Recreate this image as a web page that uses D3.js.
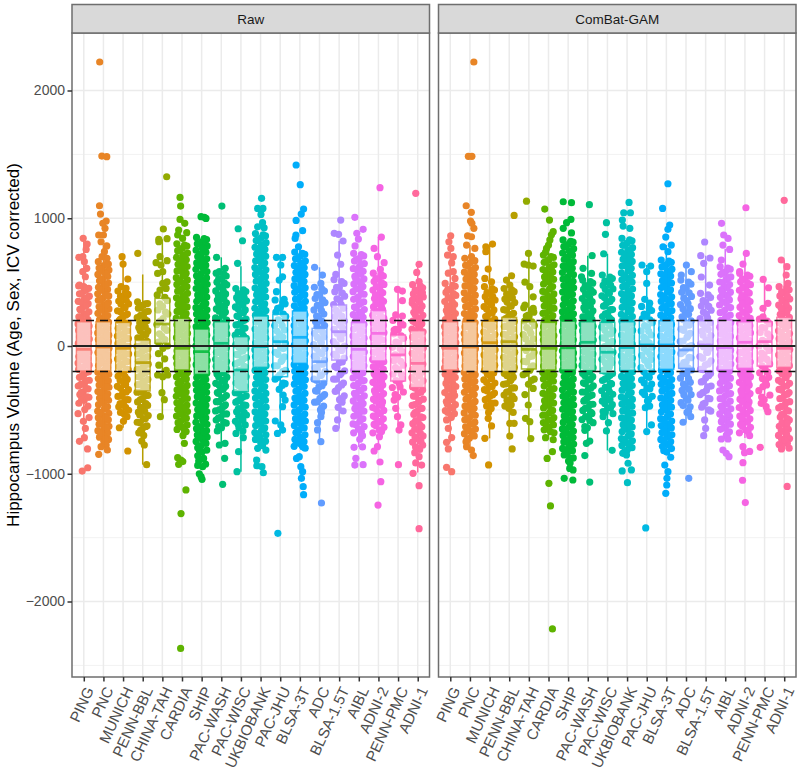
<!DOCTYPE html>
<html><head><meta charset="utf-8">
<script src="https://cdnjs.cloudflare.com/ajax/libs/d3/7.8.5/d3.min.js"></script>
<style>html,body{margin:0;padding:0;background:#fff}svg{display:block}text{font-family:"Liberation Sans",Arial,sans-serif}</style>
</head><body><svg id="c" width="800" height="773"></svg>
<script>
const studies=["PING","PNC","MUNICH","PENN-BBL","CHINA-TAH","CARDIA","SHIP","PAC-WASH","PAC-WISC","UKBIOBANK","PAC-JHU","BLSA-3T","ADC","BLSA-1.5T","AIBL","ADNI-2","PENN-PMC","ADNI-1"];
const studyColors=["#F8766D","#E88526","#D39200","#B79F00","#93AA00","#5EB300","#00BA38","#00BF74","#00C19F","#00BFC4","#00B9E3","#00ADFA","#619CFF","#AE87FF","#DB72FB","#F564E3","#FF61C3","#FF699C"];
const yTicks=[-2000,-1000,0,1000,2000];
const yMinorTicks=[-2500,-1500,-500,500,1500];
const refLines=[-200,200];

const rawQ3=[190,190,185,47,373,217,133,190,73,235,248,274,138,321,183,277,86,120];
const rawMedian=[-26,-8,-18,-130,172,-18,-44,21,-188,-5,34,68,-123,112,-26,99,-70,-136];
const rawQ1=[-196,-196,-201,-352,21,-188,-222,-209,-357,-167,-240,-136,-274,-110,-193,-117,-274,-326];
const rawWhiskerHigh=[843,790,699,560,835,790,810,694,624,800,694,770,616,822,720,853,444,639];
const rawWhiskerLow=[-746,-790,-640,-929,-553,-730,-830,-775,-984,-760,-684,-800,-749,-645,-790,-790,-658,-990];

const combatQ3=[190,190,195,224,190,185,195,190,185,190,209,198,198,198,203,190,190,224];
const combatMedian=[-18,-8,26,34,-26,-18,-14,29,-49,-12,8,8,-31,8,-13,29,34,-18];
const combatQ1=[-188,-201,-201,-201,-180,-188,-188,-193,-214,-192,-193,-183,-175,-193,-188,-175,-157,-167];
const combatWhiskerHigh=[863,790,798,550,725,790,830,707,722,800,634,790,634,707,760,725,521,673];
const combatWhiskerLow=[-754,-800,-723,-705,-725,-730,-830,-775,-817,-800,-670,-830,-597,-702,-728,-720,-514,-736];

// Isolated points read one by one: [value, jitter in category widths]
const rawSparse=[
[[843,-.03],[798,.17],[756,.12],[699,-.05],[694,-.25],[660,.03],[608,.15],[582,-.05],[542,.08],[477,-.22],[464,0],[451,.12],[-645,.08],[-718,.03],[-746,-.22],[-806,.19],[-953,.2],[-979,-.08]],
[[2223,-.19],[1487,-.08],[1482,.17],[1098,-.2],[1033,-.15],[978,.14],[960,-.03],[921,.08],[869,-.24],[869,0],[816,-.12],[783,.17],[738,.05],[699,-.07],[686,.18],[-775,.14],[-788,-.12],[-814,.2],[-848,-.24]],
[[699,-.05],[641,0],[524,.24],[464,-.1],[451,.15],[-553,.2],[-590,.02],[-640,-.19],[-822,.24]],
[[725,-.25],[-700,.05],[-744,-.05],[-775,.08],[-929,.2]],
[[1325,.22],[916,.05],[840,.24],[835,-.18],[816,-.18],[699,-.12],[668,.24],[652,-.32],[634,-.07],[582,.02],[568,-.24],[503,.24],[490,.02],[451,.19],[438,-.12],[-18,.03],[-60,-.2],[-100,.12],[-150,-.18],[-190,.2],[-227,-.24],[-227,.27],[-240,.02],[-365,-.02],[-420,.1],[-553,-.1]],
[[1163,-.1],[1095,-.07],[991,-.1],[960,.14],[908,-.17],[887,.24],[869,-.22],[842,.03],[-700,.05],[-762,.12],[-874,-.22],[-893,-.05],[-926,-.17],[-905,.04],[-1127,.2],[-1312,-.05],[-2367,-.07]],
[[1012,-.03],[1007,.14],[999,.22],[-860,-.2],[-880,.1],[-900,-.15],[-925,.2],[-945,.05],[-935,-.2],[-1000,-.12],[-1023,-.03],[-1044,.02]],
[[1095,.03],[694,-.24],[608,.2],[582,-.1],[-665,-.2],[-775,-.1],[-762,.19],[-879,.17],[-1083,.07]],
[[918,-.14],[824,.08],[647,-.17],[-640,-.1],[-665,.1],[-684,-.25],[-718,.12],[-827,-.12],[-984,-.2]],
[[1156,.05],[1077,-.15],[1077,.12],[1030,.02],[965,.1],[933,-.15],[925,.18],[-780,.1],[-801,-.15],[-815,.27],[-893,-.2],[-937,-.19],[-945,.07],[-992,.14]],
[[694,-.19],[694,.12],[634,.03],[542,.12],[516,-.05],[425,-.19],[365,.2],[-310,.1],[-340,-.05],[-384,.15],[-423,.25],[-475,.12],[-587,-.25],[-618,.03],[-658,.12],[-684,-.14],[-1466,-.12]],
[[1417,-.19],[1263,.02],[1072,.19],[1033,.07],[983,-.19],[903,.14],[869,-.2],[842,-.24],[777,-.07],[-866,-.03],[-880,-.17],[-945,.05],[-984,.14],[-1036,.08],[-1101,.17],[-1164,.19]],
[[616,-.25],[555,.15],[490,.07],[-520,.1],[-553,.07],[-600,-.1],[-657,-.1],[-749,.07],[-1229,.1]],
[[986,.08],[882,-.25],[874,-.03],[822,.2],[712,-.08],[640,.08],[560,-.17],[-440,.15],[-480,-.05],[-509,.2],[-579,-.08],[-645,-.17]],
[[1007,-.2],[913,.22],[882,-.1],[837,-.02],[783,-.19],[-702,.19],[-730,.05],[-793,-.24],[-790,.19],[-879,-.15],[-932,-.2],[-929,.22]],
[[1239,.08],[853,.15],[764,-.22],[699,-.05],[652,.29],[600,.1],[-710,.05],[-788,-.05],[-822,-.22],[-908,.08],[-1062,.12],[-1245,-.02]],
[[444,-.03],[430,.22],[355,.22],[243,-.12],[234,.22],[125,-.2],[-423,-.2],[-488,-.12],[-553,-.03],[-618,.14],[-658,.05],[-929,.02]],
[[1195,-.1],[639,.07],[576,-.05],[504,.07],[417,.24],[360,-.27],[-810,.1],[-835,-.15],[-866,.07],[-932,.2],[-915,-.1],[-997,-.24],[-1093,.07],[-1430,.07]]
];
const rawDense=[
[470,452,431,409,390,372,350,331,309,287,268,251,228,207,190,173,156,139,122,105,88,71,54,37,20,3,-14,-31,-48,-65,-82,-99,-116,-133,-150,-167,-184,-201,-222,-245,-268,-290,-313,-335,-358,-380,-402,-425,-448,-470,-498,-530,-560,-590],
[660,642,628,610,594,577,560,544,526,510,493,476,460,443,425,409,392,375,358,340,324,307,290,273,256,238,222,204,187,170,153,136,119,102,85,68,51,34,17,0,-17,-34,-51,-68,-85,-102,-119,-136,-153,-170,-187,-204,-221,-238,-255,-272,-289,-306,-323,-340,-357,-374,-391,-408,-425,-442,-459,-476,-493,-510,-527,-544,-561,-578,-595,-612,-629,-646,-663,-680,-697,-714,-731,-745],
[430,404,381,352,329,301,276,250,222,198,178,158,138,118,98,78,58,38,18,-2,-22,-42,-62,-82,-102,-122,-142,-162,-185,-210,-236,-262,-288,-316,-342,-369,-395,-420,-448,-476,-503,-530],
[345,332,318,296,272,248,222,197,170,144,118,90,64,38,18,-2,-22,-42,-62,-82,-102,-122,-142,-162,-182,-202,-222,-242,-262,-282,-302,-322,-342,-362,-386,-412,-438,-465,-490,-518,-545,-570,-597,-625,-652,-680],
[400,355,310,282,250,215,168,122,75,30,0],
[800,782,765,746,728,711,693,675,658,640,622,605,588,570,552,535,517,499,482,464,447,429,412,394,377,359,341,324,306,289,271,254,236,218,201,184,167,150,133,116,99,82,65,48,31,14,-3,-20,-37,-54,-71,-88,-105,-122,-139,-156,-173,-190,-207,-224,-241,-258,-275,-292,-309,-326,-343,-360,-377,-394,-411,-428,-445,-462,-479,-496,-513,-530,-548,-565,-583,-600,-618,-635,-653,-670],
[850,833,816,800,783,766,750,733,716,700,683,666,650,633,616,600,583,566,550,533,516,500,483,466,450,433,416,400,383,366,350,333,316,300,283,266,250,233,216,200,184,167,151,134,118,101,85,68,52,35,19,2,-14,-31,-47,-64,-80,-97,-113,-130,-146,-163,-179,-196,-213,-230,-247,-263,-280,-297,-313,-330,-347,-363,-380,-397,-413,-430,-447,-463,-480,-497,-513,-530,-547,-563,-580,-597,-613,-630,-647,-663,-680,-697,-713,-730,-747,-763,-780,-797,-815,-830],
[570,548,525,500,479,455,431,408,384,360,337,314,290,266,243,220,202,184,166,148,130,112,94,76,58,40,22,4,-14,-32,-50,-68,-86,-104,-122,-140,-158,-176,-196,-220,-244,-268,-292,-316,-340,-364,-388,-412,-436,-460,-484,-508,-532,-556,-580,-604,-640],
[450,426,402,378,354,330,306,282,258,234,210,190,165,140,110,85,60,35,10,-15,-40,-65,-90,-115,-140,-165,-190,-215,-240,-265,-290,-315,-340,-365,-390,-415,-440,-465,-490,-515,-540,-565,-590,-618],
[880,862,844,826,809,791,773,756,738,720,702,685,667,649,631,614,596,578,560,543,525,507,490,472,454,436,419,401,383,366,348,330,312,295,277,259,241,223,205,187,169,151,133,115,97,79,61,43,25,7,-11,-29,-47,-65,-83,-101,-119,-137,-155,-173,-191,-209,-227,-245,-263,-281,-299,-317,-335,-353,-371,-389,-407,-425,-443,-461,-479,-497,-515,-533,-551,-569,-587,-605,-623,-641,-659,-677,-695,-713,-731,-745,-760],
[360,330,300,265,230,195,160,125,90,55,20,-15,-50,-85,-120,-155,-190,-225,-260,-295],
[735,717,700,682,665,647,630,612,595,577,560,542,525,507,490,472,455,437,420,402,385,367,350,332,315,297,280,262,245,228,211,194,177,160,143,126,109,92,75,58,41,24,7,-10,-27,-44,-61,-78,-95,-112,-129,-146,-163,-180,-197,-214,-231,-248,-265,-282,-299,-317,-335,-353,-371,-389,-407,-425,-443,-461,-479,-497,-515,-533,-551,-569,-587,-605,-623,-641,-659,-677,-695,-713,-731,-749,-767,-785,-800],
[460,430,400,372,340,310,282,250,222,190,160,130,100,70,40,10,-20,-50,-80,-110,-140,-170,-200,-230,-260,-290,-320,-350,-380,-410,-440,-470,-500],
[520,490,455,425,390,360,325,295,260,230,195,165,130,100,65,35,0,-30,-65,-95,-130,-160,-195,-225,-260,-290,-325,-355,-390,-420],
[725,705,685,665,645,625,605,585,565,545,525,505,485,465,445,425,405,385,365,345,325,305,285,265,245,225,205,187,169,151,133,115,97,79,61,43,25,7,-11,-29,-47,-65,-83,-101,-119,-137,-155,-173,-191,-210,-230,-250,-270,-290,-310,-330,-350,-370,-390,-410,-430,-450,-470,-490,-510,-530,-550,-570,-590,-610,-630,-650,-680],
[570,548,526,504,482,460,438,416,394,372,350,328,306,284,262,240,218,199,180,161,142,123,104,85,66,47,28,9,-10,-29,-48,-67,-86,-105,-124,-143,-162,-181,-200,-218,-240,-262,-284,-306,-328,-350,-372,-394,-416,-438,-460,-482,-504,-526,-548,-570,-592,-614,-636,-658,-680],
[200,165,130,95,60,25,-10,-45,-80,-115,-150,-185,-220,-255,-290,-325,-360,-400],
[480,456,432,408,384,360,336,312,288,264,240,216,195,174,153,132,111,90,69,48,27,6,-15,-36,-57,-78,-99,-120,-141,-162,-183,-204,-224,-248,-272,-296,-320,-344,-368,-392,-416,-440,-464,-488,-512,-536,-560,-584,-608,-632,-656,-680,-704,-728,-752,-776,-800]
];
const rawFill=[
[440,408,377,344,311,280,247,214,182,150,118,85,52,20,-12,-44,-77,-108,-140,-172,-205,-237,-270,-301,-333,-365,-398,-420],
[640,600,562,521,480,441,400,361,322,282,240,201,160,120,81,40,0,-41,-80,-122,-161,-200,-241,-282,-320,-361,-402,-441,-480,-522,-561,-600,-641,-680,-730],
[420,390,358,328,300,270,241,210,180,150,121,90,60,30,0,-31,-60,-90,-121,-150,-180,-211,-240,-270,-301,-330,-360,-392,-420,-451,-480,-520],
[330,300,268,240,210,181,150,120,90,61,30,0,-30,-61,-90,-120,-151,-180,-210,-241,-270,-300,-331,-360,-390,-421,-450,-480,-511,-540,-570,-600,-630,-660],
[380,330,265,195,140,95,50],
[790,750,712,670,631,590,551,512,470,431,390,352,311,270,232,191,150,110,71,30,-10,-51,-90,-130,-171,-210,-250,-291,-330,-370,-411,-450,-490,-531,-570,-610,-660],
[840,798,756,715,672,630,588,546,505,462,420,378,337,295,252,210,168,127,85,42,0,-42,-84,-126,-169,-210,-252,-295,-336,-378,-421,-462,-504,-547,-588,-630,-672,-715,-756,-820],
[560,528,495,464,431,400,368,335,303,272,240,207,175,143,111,80,47,15,-18,-50,-82,-114,-147,-178,-210,-242,-275,-307,-339,-371,-404,-436,-468,-500,-533,-565,-597,-630],
[440,410,380,350,320,291,260,230,200,170,140,110,80,50,20,-10,-40,-70,-100,-130,-160,-190,-220,-250,-280,-310,-340,-370,-400,-430,-460,-490,-520,-550,-580,-610],
[870,830,791,750,711,670,630,590,551,510,470,430,390,351,310,270,230,190,151,110,70,30,-10,-50,-90,-131,-170,-210,-250,-290,-331,-370,-410,-450,-490,-530,-570,-611,-650,-690,-750],
[340,295,250,205,160,115,70,25,-20,-65,-110,-155,-200,-245,-290],
[725,685,645,605,565,525,484,445,404,365,325,285,245,205,165,125,85,45,5,-35,-75,-115,-155,-195,-235,-275,-315,-355,-395,-435,-475,-515,-555,-595,-635,-675,-715,-755,-790],
[445,403,361,319,277,235,193,151,109,67,25,-17,-59,-101,-143,-185,-227,-269,-311,-353,-395,-437,-490],
[505,460,415,370,325,280,235,190,145,100,55,10,-35,-80,-125,-170,-215,-260,-305,-350,-410],
[715,677,639,601,563,525,487,449,411,373,335,297,259,221,183,145,107,69,31,-7,-45,-83,-121,-159,-197,-235,-273,-311,-349,-387,-425,-463,-501,-539,-577,-615,-670],
[560,528,496,464,432,400,368,336,304,272,240,208,176,144,112,80,48,16,-16,-48,-80,-112,-144,-176,-208,-240,-272,-304,-336,-368,-400,-432,-464,-496,-528,-560,-592,-624,-670],
[180,130,80,30,-20,-70,-120,-170,-220,-270,-320,-380],
[470,438,406,374,342,310,278,246,214,182,150,118,86,54,22,-10,-42,-74,-106,-138,-170,-202,-234,-266,-298,-330,-362,-394,-426,-458,-490,-522,-554,-586,-618,-650,-682,-714,-746,-790]
];

const combatSparse=[
[[863,.02],[816,-.07],[764,.03],[712,-.14],[699,.15],[650,.07],[582,.15],[570,-.1],[529,.24],[-579,-.19],[-645,-.1],[-717,.07],[-754,-.19],[-806,-.1],[-950,-.19],[-984,.07]],
[[2223,.2],[1485,-.08],[1485,.1],[1098,-.19],[1046,.07],[978,.03],[960,.1],[921,.2],[863,-.12],[855,.08],[790,-.17],[764,.25],[699,.08],[-788,-.17],[-814,.08],[-858,.17]],
[[798,.15],[777,-.19],[738,-.19],[602,-.07],[529,-.24],[503,.1],[-490,.08],[-520,-.05],[-566,-.07],[-626,.1],[-723,-.24],[-931,-.05]],
[[1022,.25],[550,.12],[516,-.14],[477,.03],[-488,-.02],[-520,.2],[-605,.03],[-605,.25],[-705,.03],[-806,.15]],
[[1134,-.12],[725,-.02],[641,-.24],[634,-.03],[626,.22],[500,-.2],[464,.05],[385,.22],[295,.22],[320,-.2],[242,-.03],[-332,.22],[-380,-.2],[-462,-.03],[-566,-.17],[-592,.05],[-725,.1]],
[[1072,-.19],[986,.05],[895,.24],[870,.15],[830,.07],[790,0],[764,-.1],[735,-.15],[-718,-.15],[-733,.24],[-827,.2],[-880,-.07],[-1075,.02],[-1252,.1],[-2215,.2]],
[[1129,-.25],[1122,.17],[991,.14],[965,-.08],[921,-.25],[885,.17],[-915,.1],[-958,.08],[-970,.25],[-1036,-.2],[-1049,.24]],
[[1106,.08],[707,.22],[608,-.24],[568,.19],[542,-.32],[-660,-.15],[-744,.1],[-762,-.07],[-858,-.15],[-1065,.1]],
[[965,-.05],[874,-.1],[722,-.19],[-553,-.22],[-665,-.05],[-817,.24],[-600,.05]],
[[1124,.1],[1043,-.17],[1043,.17],[986,-.24],[939,-.2],[921,.14],[-853,-.03],[-918,.05],[-978,-.25],[-970,.22],[-1070,.02]],
[[634,-.24],[626,.2],[582,0],[490,0],[365,-.1],[335,.15],[-470,.15],[-483,-.07],[-618,.24],[-670,0],[-1424,-.05]],
[[1270,.08],[1077,-.19],[947,.17],[913,.08],[853,-.03],[790,.25],[777,-.17],[738,.08],[-871,.22],[-932,-.08],[-984,.08],[-1036,.03],[-1088,.02],[-1153,-.03]],
[[634,.02],[582,.27],[555,-.24],[-553,.24],[-597,-.15],[-1036,.14]],
[[814,-.05],[707,-.25],[689,.22],[647,-.1],[540,-.22],[477,.2],[-579,-.05],[-645,0],[-702,-.1]],
[[960,-.19],[869,-.08],[842,.14],[790,-.12],[756,.22],[673,-.2],[-728,-.2],[-728,.14],[-814,-.12],[-840,.05],[-866,.19]],
[[1082,.05],[725,.07],[641,-.1],[582,-.27],[-620,-.15],[-702,.24],[-788,-.1],[-835,-.02],[-825,.24],[-913,-.1],[-1051,-.12],[-1226,.02]],
[[521,-.07],[456,.2],[334,.17],[295,-.08],[229,-.08],[-318,-.08],[-449,-.17],[-475,.08],[-514,.17],[-793,-.22]],
[[1140,0],[673,-.15],[621,.14],[555,.1],[490,.19],[-605,.15],[-684,.1],[-736,.02],[-806,-.14],[-1099,.15]]
];
const combatDense=[
[490,467,443,419,396,372,348,325,301,277,254,230,206,188,170,152,134,116,98,80,62,44,26,8,-10,-28,-46,-64,-82,-100,-118,-136,-154,-172,-190,-208,-222,-246,-269,-293,-317,-340,-364,-388,-411,-435,-459,-482,-506,-530,-560],
[686,668,650,632,614,596,578,560,542,524,506,488,470,452,434,416,398,380,362,344,326,308,290,272,254,236,218,200,183,166,149,132,115,98,81,64,47,30,13,-4,-21,-38,-55,-72,-89,-106,-123,-140,-157,-174,-191,-208,-225,-242,-259,-276,-293,-310,-327,-344,-362,-380,-398,-416,-434,-452,-470,-488,-506,-524,-542,-560,-578,-596,-614,-632,-650,-668,-686,-704,-722,-750],
[464,438,412,386,360,334,308,282,256,230,210,190,170,150,130,110,90,70,50,30,10,-10,-30,-50,-70,-90,-110,-130,-150,-170,-190,-212,-238,-264,-290,-316,-342,-368,-394,-420,-446,-472],
[450,425,395,368,340,312,284,256,232,212,192,172,152,132,112,92,72,52,32,12,-8,-28,-48,-68,-88,-108,-128,-148,-168,-190,-216,-244,-272,-300,-328,-356,-384,-412,-440,-470],
[300,265,230,195,160,125,90,55,20,-15,-50,-85,-120,-155,-190,-225,-260,-300],
[712,693,674,655,636,617,598,579,560,541,522,503,484,465,446,427,408,389,370,351,332,313,294,275,256,237,218,200,183,166,149,132,115,98,81,64,47,30,13,-4,-21,-38,-55,-72,-89,-106,-123,-140,-157,-174,-191,-208,-225,-242,-259,-276,-295,-314,-333,-352,-371,-390,-409,-428,-447,-466,-485,-504,-523,-542,-561,-580,-599,-618,-637,-656,-680],
[830,813,796,779,762,745,728,711,694,677,660,643,626,609,592,575,558,541,524,507,490,473,456,439,422,405,388,371,354,337,320,303,286,269,252,235,218,201,184,167,150,133,116,99,82,65,48,31,14,-3,-20,-37,-54,-71,-88,-105,-122,-139,-156,-173,-190,-207,-224,-241,-258,-275,-292,-309,-326,-343,-360,-377,-394,-411,-428,-445,-462,-479,-496,-513,-530,-547,-564,-581,-598,-615,-632,-649,-666,-683,-700,-717,-734,-751,-768,-785,-802,-819,-836,-853,-876,-900],
[516,492,468,444,420,396,372,348,324,300,276,252,228,208,190,172,154,136,118,100,82,64,46,28,10,-8,-26,-44,-62,-80,-98,-116,-134,-152,-170,-192,-216,-240,-264,-288,-312,-336,-360,-384,-408,-432,-456,-480,-504,-528,-552,-576,-600,-640],
[555,528,501,474,447,420,393,366,339,312,285,258,231,204,176,148,120,92,64,36,8,-20,-48,-76,-104,-132,-160,-188,-216,-243,-270,-297,-324,-351,-378,-405,-432,-459,-486,-513,-530],
[842,824,806,788,770,752,734,716,698,680,662,644,626,608,590,572,554,536,518,500,482,464,446,428,410,392,374,356,338,320,302,284,266,248,230,212,194,176,158,140,122,104,86,68,50,32,14,-4,-22,-40,-58,-76,-94,-112,-130,-148,-166,-184,-202,-220,-238,-256,-274,-292,-310,-328,-346,-364,-382,-400,-418,-436,-454,-472,-490,-508,-526,-544,-562,-580,-598,-616,-634,-652,-670,-688,-706,-724,-742,-760,-778,-796,-814,-840],
[310,278,246,214,182,150,118,86,54,22,-10,-42,-74,-106,-138,-170,-202,-234,-266,-298,-330,-362,-394,-430],
[673,655,637,619,601,583,565,547,529,511,493,475,457,439,421,403,385,367,349,331,313,295,277,259,241,223,205,187,169,151,133,115,97,79,61,43,25,7,-11,-29,-47,-65,-83,-101,-119,-137,-155,-173,-191,-209,-227,-245,-263,-281,-299,-317,-335,-353,-371,-389,-407,-425,-443,-461,-479,-497,-515,-533,-551,-569,-587,-605,-623,-641,-659,-677,-695,-713,-731,-749,-767,-785,-803,-830],
[516,484,452,420,388,356,324,292,260,228,196,164,132,100,68,36,4,-28,-60,-92,-124,-156,-188,-220,-252,-284,-316,-348,-380,-412,-444,-476,-520],
[412,379,346,313,280,247,214,181,148,115,82,49,16,-17,-50,-83,-116,-149,-182,-215,-248,-281,-314,-347,-380,-413,-446,-479,-510],
[621,601,581,561,541,521,501,481,461,441,421,401,381,361,341,321,301,281,261,241,221,201,183,165,147,129,111,93,75,57,39,21,3,-15,-33,-51,-69,-87,-105,-123,-141,-159,-177,-195,-212,-232,-252,-272,-292,-312,-332,-352,-372,-392,-412,-432,-452,-472,-492,-512,-532,-552,-572,-592,-612,-632,-652,-672,-700],
[568,546,524,502,480,458,436,414,392,370,348,326,304,282,260,238,216,197,178,159,140,121,102,83,64,45,26,7,-12,-31,-50,-69,-88,-107,-126,-145,-164,-183,-202,-218,-240,-262,-284,-306,-328,-350,-372,-394,-416,-438,-460,-482,-504,-526,-548,-570,-592,-614,-636,-658,-680],
[210,175,140,105,70,35,0,-35,-70,-105,-140,-175,-210,-245,-280,-350,-385,-420],
[464,440,416,392,368,344,320,296,272,248,224,203,182,161,140,119,98,77,56,35,14,-7,-28,-49,-70,-91,-112,-133,-154,-175,-195,-220,-244,-268,-292,-316,-340,-364,-388,-412,-436,-460,-484,-508,-532,-556,-580,-604,-628,-652,-676,-700,-724,-748,-772,-800]
];
const combatFill=[
[475,442,410,378,346,314,282,250,218,186,154,122,90,58,26,-6,-38,-70,-102,-134,-166,-198,-230,-262,-294,-326,-358,-390,-422,-454,-486,-520],
[670,630,591,551,511,471,431,392,352,312,272,232,193,153,113,73,33,-7,-47,-87,-127,-167,-207,-247,-287,-327,-367,-407,-447,-487,-527,-567,-607,-647,-687,-735],
[450,418,386,354,322,290,258,226,194,162,130,98,66,34,2,-30,-62,-94,-126,-158,-190,-222,-254,-286,-318,-350,-382,-414,-446,-470],
[440,408,376,344,312,280,248,216,184,152,120,88,56,24,-8,-40,-72,-104,-136,-168,-200,-232,-264,-296,-328,-360,-392,-424,-460],
[280,235,190,145,100,55,10,-35,-80,-125,-170,-215,-270],
[700,660,621,580,540,501,460,421,380,341,300,260,221,180,141,100,61,20,-20,-60,-101,-140,-181,-220,-261,-300,-341,-380,-421,-460,-501,-540,-581,-620,-670],
[820,778,736,694,652,610,568,526,484,442,400,358,316,274,232,190,148,106,64,22,-20,-62,-104,-146,-188,-230,-272,-314,-356,-398,-440,-482,-524,-566,-608,-650,-692,-734,-776,-818,-880],
[505,472,440,408,376,344,312,280,248,216,184,152,120,88,56,24,-8,-40,-72,-104,-136,-168,-200,-232,-264,-296,-328,-360,-392,-424,-456,-488,-520,-552,-584,-630],
[540,508,476,444,412,380,348,316,284,252,220,188,156,124,92,60,28,-4,-36,-68,-100,-132,-164,-196,-228,-260,-292,-324,-356,-388,-420,-452,-484,-520],
[830,790,750,710,670,630,590,550,510,470,430,390,350,310,270,230,190,150,110,70,30,-10,-50,-90,-130,-170,-210,-250,-290,-330,-370,-410,-450,-490,-530,-570,-610,-650,-690,-730,-770,-830],
[295,250,205,160,115,70,25,-20,-65,-110,-155,-200,-245,-290,-335,-380,-420],
[665,625,585,545,505,465,425,385,345,305,265,225,185,145,105,65,25,-15,-55,-95,-135,-175,-215,-255,-295,-335,-375,-415,-455,-495,-535,-575,-615,-655,-695,-735,-775,-820],
[500,458,416,374,332,290,248,206,164,122,80,38,-4,-46,-88,-130,-172,-214,-256,-298,-340,-382,-424,-466,-510],
[400,355,310,265,220,175,130,85,40,-5,-50,-95,-140,-185,-230,-275,-320,-365,-410,-455,-500],
[610,572,534,496,458,420,382,344,306,268,230,192,154,116,78,40,2,-36,-74,-112,-150,-188,-226,-264,-302,-340,-378,-416,-454,-492,-530,-568,-606,-644,-690],
[555,523,491,459,427,395,363,331,299,267,235,203,171,139,107,75,43,11,-21,-53,-85,-117,-149,-181,-213,-245,-277,-309,-341,-373,-405,-437,-469,-501,-533,-565,-597,-629,-670],
[195,145,95,45,-5,-55,-105,-155,-205,-255,-305,-400],
[455,423,391,359,327,295,263,231,199,167,135,103,71,39,7,-25,-57,-89,-121,-153,-185,-217,-249,-281,-313,-345,-377,-409,-441,-473,-505,-537,-569,-601,-633,-665,-697,-729,-761,-795]
];
// Repeating lateral patterns for the solid parts of each column, in category widths
const laneOffsets=[-.26,.25,.01,-.22,.28,.04,-.28,.22,-.03,-.2,.26,.02,-.25,.21,.05,-.29,.27,-.02];
const fillOffsets=[.13,-.13,.16,-.11,.1,-.15];

const svg=d3.select("#c");
const y=d3.scaleLinear().domain([-2000,2000]).range([601.5,90.5]);
const panelTop=33,panelBottom=677,stripTop=4.5;
const panels=[
 {name:"Raw",left:72,right:429.5,sparse:rawSparse,dense:rawDense,fill:rawFill,q1:rawQ1,med:rawMedian,q3:rawQ3,lo:rawWhiskerLow,hi:rawWhiskerHigh},
 {name:"ComBat-GAM",left:438.5,right:796,sparse:combatSparse,dense:combatDense,fill:combatFill,q1:combatQ1,med:combatMedian,q3:combatQ3,lo:combatWhiskerLow,hi:combatWhiskerHigh}
];
panels.forEach(p=>{
 const x=d3.scalePoint().domain(studies).range([p.left,p.right]).padding(.6);
 const step=x.step();
 const g=svg.append("g");
 g.selectAll(".minor").data(yMinorTicks).join("line").attr("x1",p.left).attr("x2",p.right)
  .attr("y1",d=>y(d)).attr("y2",d=>y(d)).attr("stroke","#f0f0f0").attr("stroke-width",.9);
 g.selectAll(".major").data(yTicks).join("line").attr("x1",p.left).attr("x2",p.right)
  .attr("y1",d=>y(d)).attr("y2",d=>y(d)).attr("stroke","#ebebeb").attr("stroke-width",1.5);
 g.selectAll(".vert").data(studies).join("line").attr("x1",d=>x(d)).attr("x2",d=>x(d))
  .attr("y1",panelTop).attr("y2",panelBottom).attr("stroke","#ebebeb").attr("stroke-width",1.5);
 studies.forEach((s,i)=>{
  const pts=p.dense[i].map((v,k)=>[v,laneOffsets[k%laneOffsets.length]])
   .concat(p.fill[i].map((v,k)=>[v,fillOffsets[k%fillOffsets.length]]))
   .concat(p.sparse[i]);
  g.append("g").selectAll("circle").data(pts).join("circle")
   .attr("cx",d=>x(s)+d[1]*step).attr("cy",d=>y(d[0])).attr("r",3.6).attr("fill",studyColors[i]);
 });
 studies.forEach((s,i)=>{
  const c=studyColors[i],w=step*.75,cx=x(s);
  g.append("line").attr("x1",cx).attr("x2",cx).attr("y1",y(p.hi[i])).attr("y2",y(p.q3[i])).attr("stroke",c).attr("stroke-width",1.5);
  g.append("line").attr("x1",cx).attr("x2",cx).attr("y1",y(p.q1[i])).attr("y2",y(p.lo[i])).attr("stroke",c).attr("stroke-width",1.5);
  g.append("rect").attr("x",cx-w/2).attr("width",w).attr("y",y(p.q3[i])).attr("height",y(p.q1[i])-y(p.q3[i]))
   .attr("fill","#fff").attr("fill-opacity",.55).attr("stroke",c).attr("stroke-opacity",.85).attr("stroke-width",1.5);
  g.append("line").attr("x1",cx-w/2).attr("x2",cx+w/2).attr("y1",y(p.med[i])).attr("y2",y(p.med[i])).attr("stroke",c).attr("stroke-opacity",.85).attr("stroke-width",2.8);
 });
 g.selectAll(".ref").data(refLines).join("line").attr("x1",p.left).attr("x2",p.right)
  .attr("y1",d=>y(d)).attr("y2",d=>y(d)).attr("stroke","#111").attr("stroke-width",1.5).attr("stroke-dasharray","8 6");
 g.append("line").attr("x1",p.left).attr("x2",p.right).attr("y1",y(0)).attr("y2",y(0)).attr("stroke","#222").attr("stroke-width",2);
 g.append("rect").attr("x",p.left).attr("y",panelTop).attr("width",p.right-p.left).attr("height",panelBottom-panelTop)
  .attr("fill","none").attr("stroke","#6e6e6e").attr("stroke-width",1.5);
 g.append("rect").attr("x",p.left).attr("y",stripTop).attr("width",p.right-p.left).attr("height",panelTop-stripTop)
  .attr("fill","#d9d9d9").attr("stroke","#6e6e6e").attr("stroke-width",1.5);
 g.append("text").attr("x",(p.left+p.right)/2).attr("y",23.5).attr("text-anchor","middle").attr("font-size",13.5).attr("fill","#1a1a1a").text(p.name);
 const ax=svg.append("g").attr("transform",`translate(0,${panelBottom})`).call(d3.axisBottom(x).tickSize(4.5).tickSizeOuter(0));
 ax.select(".domain").remove();
 ax.selectAll(".tick line").attr("stroke","#333").attr("stroke-width",1.5);
 ax.selectAll(".tick text").attr("font-size",15).attr("fill","#4d4d4d").attr("font-family",null)
   .attr("text-anchor","end").attr("dy",null).attr("x",null).attr("y",null)
   .attr("transform","translate(10,13) rotate(-65)");
});
const ay=svg.append("g").attr("transform","translate(72,0)").call(d3.axisLeft(y).tickValues(yTicks).tickFormat(d3.format("d")).tickSize(4.5).tickSizeOuter(0));
ay.select(".domain").remove();
ay.selectAll(".tick line").attr("stroke","#333").attr("stroke-width",1.5);
ay.selectAll(".tick text").attr("font-size",14).attr("fill","#4d4d4d").attr("font-family",null).attr("x",-7);
svg.append("text").attr("transform","translate(19,345) rotate(-90)").attr("text-anchor","middle").attr("font-size",17).attr("fill","#000").text("Hippocampus Volume (Age, Sex, ICV corrected)");
</script></body></html>
